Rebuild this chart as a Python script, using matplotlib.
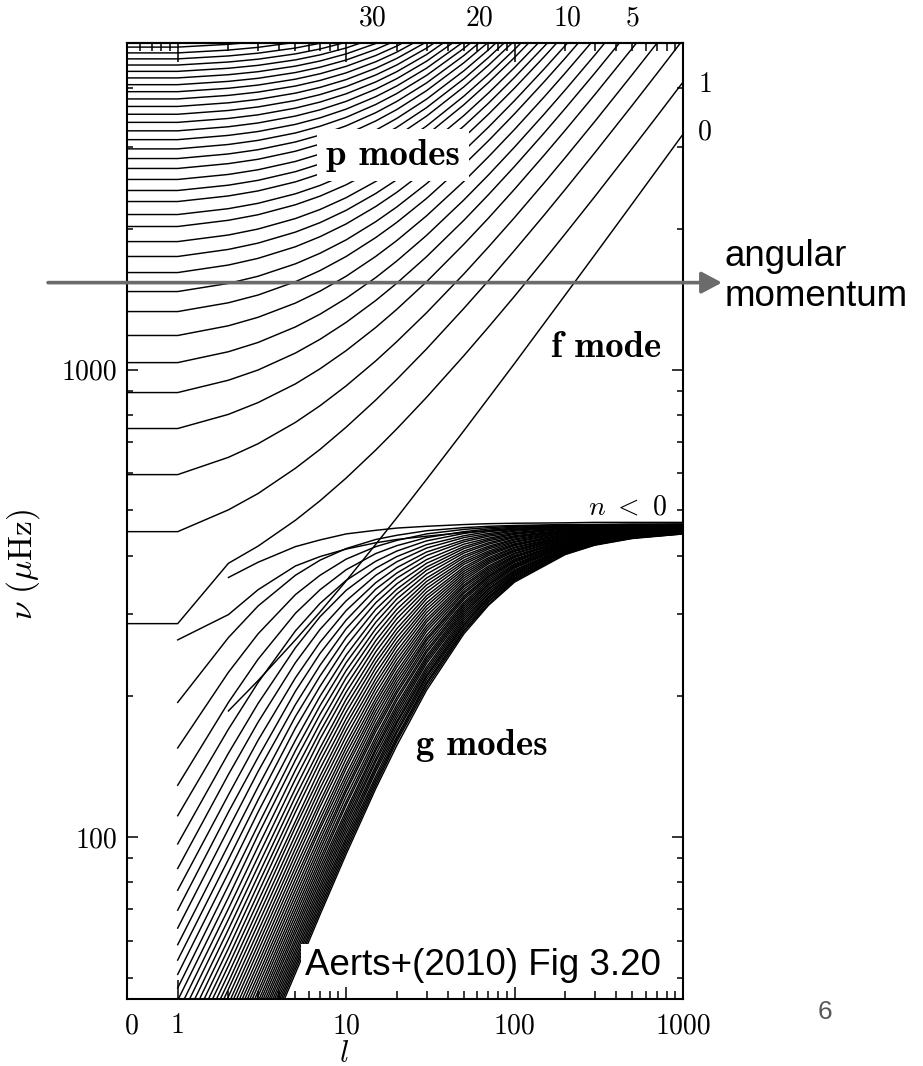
import numpy as np
import matplotlib
matplotlib.use("Agg")
import matplotlib.pyplot as plt
import matplotlib.transforms as mtransforms
from matplotlib.ticker import NullFormatter

# degree l at which the mode frequencies were read (l = 0 sits on the left frame)
ell_p = [0, 1, 2, 3, 5, 7, 10, 15, 20, 30, 50, 70, 100, 150, 200, 300, 500, 700, 1000]
ell_g = [1, 2, 3, 5, 7, 10, 15, 20, 30, 50, 70, 100, 200, 300, 500, 1000]

# p modes, order n = 1, 2, ...  (frequency in microHz, row ends where it leaves the top)
p_modes = [
    [286, 286, 385, 419, 476, 524, 586, 673, 747, 872, 1071, 1233, 1436, 1717, 1953, 2348, 2975, 3483, 4124],
    [450, 450, 501, 543, 615, 675, 753, 861, 953, 1107, 1352, 1550, 1800, 2142, 2431, 2914, 3679, 4300, 5082],
    [596, 596, 649, 694, 771, 837, 923, 1044, 1148, 1323, 1602, 1830, 2116, 2511, 2843, 3399, 4280, 4994, 5895],
    [748, 748, 802, 850, 932, 1004, 1098, 1231, 1346, 1541, 1855, 2110, 2433, 2878, 3252, 3879, 4872, 5678],
    [893, 893, 949, 998, 1085, 1161, 1262, 1406, 1531, 1744, 2087, 2368, 2722, 3211, 3623, 4313, 5405],
    [1035, 1035, 1092, 1143, 1234, 1314, 1421, 1574, 1708, 1937, 2307, 2610, 2994, 3523, 3968, 4715, 5898],
    [1183, 1183, 1241, 1294, 1388, 1472, 1584, 1747, 1889, 2133, 2528, 2854, 3266, 3834, 4313, 5115],
    [1331, 1331, 1390, 1444, 1542, 1629, 1746, 1917, 2066, 2324, 2744, 3089, 3527, 4132, 4642, 5498],
    [1469, 1469, 1529, 1584, 1684, 1774, 1895, 2073, 2229, 2499, 2939, 3303, 3764, 4401, 4938, 5840],
    [1613, 1613, 1674, 1730, 1832, 1925, 2050, 2234, 2396, 2678, 3139, 3520, 4004, 4673, 5237],
    [1746, 1746, 1808, 1865, 1969, 2063, 2192, 2382, 2549, 2841, 3320, 3716, 4220, 4917, 5506],
    [1879, 1879, 1941, 1999, 2105, 2201, 2333, 2528, 2701, 3002, 3497, 3908, 4431, 5155],
    [2024, 2024, 2087, 2145, 2253, 2351, 2486, 2686, 2864, 3175, 3688, 4113, 4656, 5409],
    [2147, 2147, 2210, 2269, 2378, 2478, 2615, 2819, 3001, 3320, 3847, 4285, 4844, 5619],
    [2289, 2289, 2353, 2412, 2522, 2624, 2764, 2972, 3159, 3486, 4028, 4480, 5057],
    [2417, 2417, 2481, 2541, 2652, 2755, 2897, 3110, 3300, 3635, 4190, 4654, 5246],
    [2552, 2552, 2616, 2677, 2789, 2893, 3037, 3254, 3448, 3790, 4359, 4834, 5443],
    [2694, 2694, 2759, 2819, 2933, 3038, 3184, 3405, 3602, 3952, 4535, 5022],
    [2829, 2829, 2894, 2955, 3070, 3176, 3324, 3547, 3749, 4105, 4700, 5199],
    [2967, 2967, 3032, 3094, 3209, 3317, 3466, 3693, 3898, 4261, 4868, 5377],
    [3105, 3105, 3171, 3232, 3348, 3457, 3609, 3838, 4046, 4415, 5034],
    [3243, 3243, 3309, 3371, 3488, 3597, 3750, 3983, 4194, 4569, 5199],
    [3381, 3381, 3447, 3509, 3627, 3737, 3892, 4127, 4341, 4722, 5363],
    [3519, 3519, 3585, 3648, 3766, 3877, 4033, 4271, 4487, 4874, 5525],
    [3657, 3657, 3723, 3786, 3905, 4017, 4174, 4415, 4634, 5025],
    [3795, 3795, 3862, 3925, 4044, 4157, 4315, 4558, 4780, 5176],
    [3933, 3933, 4000, 4063, 4183, 4296, 4456, 4701, 4925, 5327],
    [4071, 4071, 4138, 4201, 4322, 4436, 4597, 4844, 5070],
    [4209, 4209, 4276, 4340, 4461, 4575, 4738, 4987, 5215],
    [4347, 4347, 4414, 4478, 4600, 4715, 4878, 5129],
    [4485, 4485, 4552, 4616, 4738, 4854, 5018],
    [4623, 4623, 4690, 4755, 4877, 4993, 5158],
    [4761, 4761, 4828, 4893, 5016],
    [4899, 4899, 4967, 5031],
]

# f mode (no l = 1 mode)
f_mode = [None, 186, 216, 264, 303, 353, 423, 482, 582, 740, 869, 1031, 1445, 1762, 2265, 3190]

# g modes, the two top tracks first, then order n = 2 ... 52 (None = below the plot)
g_modes = [
    [264, 299, 338, 380, 398, 413, 426, 433, 440, 448, 452, 456, 461, 463, 465, 466],
    [None, 359, 387, 418, 432, 445, 453, 458, 462, 466, 468, 469, 470, 471, 471, 471],
    [194, 267, 312, 363, 391, 414, 433, 442, 452, 459, 462, 464, 466, 466, 467, 467],
    [155, 225, 272, 330, 363, 393, 418, 431, 445, 455, 459, 462, 465, 466, 466, 467],
    [129, 194, 240, 301, 338, 373, 404, 420, 437, 450, 456, 460, 464, 465, 466, 466],
    [111, 170, 214, 276, 316, 354, 389, 409, 430, 446, 453, 458, 463, 464, 465, 466],
    [96.6, 151, 193, 254, 296, 337, 376, 398, 422, 441, 450, 455, 462, 463, 465, 466],
    [85.6, 136, 176, 236, 278, 320, 363, 388, 415, 437, 446, 453, 460, 463, 464, 465],
    [76.9, 123, 161, 219, 261, 305, 350, 377, 407, 432, 443, 451, 459, 462, 464, 465],
    [69.7, 113, 148, 205, 247, 291, 339, 367, 400, 428, 440, 448, 458, 461, 463, 464],
    [63.8, 104, 138, 192, 233, 279, 327, 358, 392, 423, 436, 446, 457, 460, 462, 464],
    [58.8, 96.1, 128, 181, 221, 267, 317, 348, 385, 418, 433, 444, 456, 459, 462, 463],
    [54.5, 89.5, 120, 171, 210, 256, 307, 339, 378, 414, 430, 441, 454, 458, 461, 463],
    [50.8, 83.8, 113, 161, 200, 245, 297, 331, 372, 409, 426, 439, 453, 457, 461, 463],
    [47.5, 78.7, 106, 153, 191, 236, 288, 323, 365, 405, 423, 437, 452, 456, 460, 462],
    [44.7, 74.2, 101, 146, 183, 227, 279, 315, 358, 400, 419, 434, 451, 456, 459, 462],
    [42.1, 70.2, 95.4, 139, 175, 219, 271, 307, 352, 396, 416, 432, 449, 455, 459, 461],
    [39.9, 66.6, 90.7, 133, 168, 211, 263, 300, 346, 391, 413, 429, 448, 454, 458, 461],
    [37.8, 63.4, 86.5, 127, 162, 204, 256, 293, 340, 387, 409, 427, 447, 453, 457, 460],
    [36.0, 60.4, 82.6, 122, 155, 197, 249, 286, 334, 383, 406, 424, 445, 452, 457, 460],
    [34.3, 57.7, 79.1, 117, 150, 191, 242, 279, 328, 378, 403, 422, 444, 451, 456, 460],
    [32.8, 55.2, 75.8, 113, 145, 185, 236, 273, 323, 374, 400, 420, 443, 450, 455, 459],
    [31.4, 53.0, 72.8, 108, 140, 179, 230, 267, 317, 370, 396, 417, 441, 449, 455, 459],
    [30.1, 50.9, 70.0, 105, 135, 174, 224, 261, 312, 366, 393, 415, 440, 448, 454, 458],
    [29.0, 48.9, 67.5, 101, 131, 169, 218, 256, 307, 362, 390, 412, 439, 447, 454, 458],
    [27.9, 47.2, 65.1, 97.7, 127, 164, 213, 250, 302, 358, 387, 410, 438, 446, 453, 457],
    [26.9, 45.5, 62.8, 94.5, 123, 159, 208, 245, 297, 354, 384, 408, 436, 445, 452, 457],
    [None, 43.9, 60.7, 91.6, 119, 155, 203, 240, 292, 350, 380, 405, 435, 444, 452, 456],
    [None, 42.5, 58.8, 88.8, 116, 151, 198, 235, 288, 346, 377, 403, 434, 443, 451, 456],
    [None, 41.1, 57.0, 86.1, 112, 147, 194, 231, 283, 343, 374, 400, 432, 443, 450, 455],
    [None, 39.8, 55.2, 83.7, 109, 143, 190, 226, 279, 339, 371, 398, 431, 442, 450, 455],
    [None, 38.6, 53.6, 81.3, 106, 140, 186, 222, 275, 335, 368, 396, 430, 441, 449, 455],
    [None, 37.5, 52.1, 79.1, 104, 136, 182, 218, 270, 332, 365, 393, 428, 440, 448, 454],
    [None, 36.5, 50.6, 77.0, 101, 133, 178, 214, 266, 328, 362, 391, 427, 439, 448, 454],
    [None, 35.4, 49.3, 75.0, 98.6, 130, 174, 210, 263, 325, 360, 389, 426, 438, 447, 453],
    [None, 34.5, 48.0, 73.1, 96.2, 127, 171, 206, 259, 322, 357, 387, 424, 437, 446, 453],
    [None, 33.6, 46.7, 71.3, 94.0, 125, 168, 203, 255, 318, 354, 384, 423, 436, 446, 452],
    [None, 32.7, 45.6, 69.6, 91.8, 122, 164, 199, 251, 315, 351, 382, 422, 435, 445, 452],
    [None, None, 44.4, 68.0, 89.7, 119, 161, 196, 248, 312, 348, 380, 420, 434, 444, 451],
    [None, None, 43.4, 66.4, 87.8, 117, 158, 192, 244, 309, 346, 378, 419, 433, 444, 451],
    [None, None, 42.4, 64.9, 85.9, 114, 155, 189, 241, 306, 343, 376, 418, 432, 443, 450],
    [None, None, 41.4, 63.5, 84.1, 112, 153, 186, 238, 303, 340, 373, 416, 431, 442, 450],
    [None, None, 40.5, 62.2, 82.3, 110, 150, 183, 235, 300, 338, 371, 415, 430, 442, 449],
    [None, None, 39.6, 60.8, 80.7, 108, 147, 180, 231, 297, 335, 369, 414, 429, 441, 449],
    [None, None, 38.8, 59.6, 79.0, 106, 145, 177, 228, 294, 332, 367, 413, 428, 440, 449],
    [None, None, 37.9, 58.4, 77.5, 104, 142, 175, 225, 291, 330, 365, 411, 427, 440, 448],
    [None, None, 37.2, 57.2, 76.0, 102, 140, 172, 222, 288, 327, 363, 410, 426, 439, 448],
    [None, None, 36.4, 56.1, 74.6, 100, 138, 169, 220, 285, 325, 361, 409, 425, 438, 447],
    [None, None, 35.7, 55.0, 73.2, 98.4, 135, 167, 217, 283, 323, 359, 407, 424, 438, 447],
    [None, None, 35.0, 54.0, 71.9, 96.7, 133, 164, 214, 280, 320, 357, 406, 423, 437, 446],
    [None, None, 34.4, 53.0, 70.6, 95.1, 131, 162, 212, 277, 318, 355, 405, 422, 436, 446],
    [None, None, 33.7, 52.1, 69.4, 93.5, 129, 160, 209, 275, 315, 353, 403, 422, 436, 445],
    [None, None, 33.1, 51.1, 68.2, 91.9, 127, 157, 206, 272, 313, 351, 402, 421, 435, 445],
]

x_ticks = [0, 1, 10, 100, 1000]
x_tick_labels = ["0", "1", "10", "100", "1000"]
y_ticks = [100, 1000]
y_tick_labels = ["100", "1000"]
top_orders = ["30", "20", "10", "5"]
top_order_l = [14.4, 62, 206, 502]
right_orders = ["1", "0"]
right_order_nu = [4077, 3216]

plt.rcParams["mathtext.fontset"] = "cm"
LW = 1.05

fig = plt.figure(figsize=(9.23, 10.66), dpi=100)
ax = fig.add_axes([0.1376, 0.0629, 0.6024, 0.8968])
ax.set_xscale("log")
ax.set_yscale("log")

# the original puts l = 0 on the left frame of the log axis
x_p = [0.5 if l == 0 else l for l in ell_p]
for row in p_modes:
    ax.plot(x_p[:len(row)], row, color="k", lw=LW)
for row in g_modes + [f_mode]:
    ax.plot(ell_g, np.array(row, dtype=float), color="k", lw=LW)

ax.set_xlim(0.5, 1000)
ax.set_ylim(45, 5000)

for s in ax.spines.values():
    s.set_linewidth(1.5)
ax.set_xticks([0.5 if t == 0 else t for t in x_ticks])
ax.set_xticklabels(x_tick_labels)
ax.set_xticks([m * d for d in (1, 10, 100) for m in range(2, 10)], minor=True)
ax.xaxis.set_minor_formatter(NullFormatter())
ax.set_yticks(y_ticks)
ax.set_yticklabels(y_tick_labels)
ax.set_yticks([m * d for d in (10, 100, 1000) for m in range(2, 10) if 45 < m * d < 5000], minor=True)
ax.yaxis.set_minor_formatter(NullFormatter())
ax.tick_params(axis="x", which="major", direction="in", length=13.5, width=1.1, pad=10,
               labelsize=20, labelfontfamily="cmr10")
ax.tick_params(axis="x", which="minor", direction="in", length=6, width=1.1)
ax.tick_params(axis="y", which="major", direction="in", length=8, width=1.1, pad=7,
               right=True, labelsize=20, labelfontfamily="cmr10")
ax.tick_params(axis="y", which="minor", direction="in", length=4, width=1.1, right=True)
lab0 = ax.get_xticklabels()[0]
lab0.set_transform(lab0.get_transform() + mtransforms.ScaledTranslation(0.05, 0, fig.dpi_scale_trans))

top = ax.secondary_xaxis("top")
top.set_xticks([1, 10, 100, 1000])
top.set_xticks([0.6, 0.7, 0.8, 0.9] + [m * d for d in (1, 10, 100) for m in range(2, 10)], minor=True)
top.set_xticklabels([])
top.xaxis.set_minor_formatter(NullFormatter())
top.tick_params(which="major", direction="in", length=13.5, width=1.1)
top.tick_params(which="minor", direction="in", length=6, width=1.1)
top.spines["top"].set_linewidth(1.5)

ax.set_xlabel(r"$l$", fontsize=22)
ax.xaxis.set_label_coords(0.39, -0.042)
ax.set_ylabel(r"$\nu\ (\mu\mathrm{Hz})$", fontsize=24)
ax.yaxis.set_label_coords(-0.153, 0.454)

tx = mtransforms.blended_transform_factory(ax.transData, ax.transAxes)
for lab, lv in zip(top_orders, top_order_l):
    ax.text(lv, 1.026, lab, transform=tx, ha="center", va="center", fontsize=20, family="cmr10")
ty = mtransforms.blended_transform_factory(ax.transAxes, ax.transData)
for lab, nv in zip(right_orders, right_order_nu):
    ax.text(1.04, nv, lab, transform=ty, ha="center", va="center", fontsize=20, family="cmr10")

ax.text(19.0, 2747, "p modes", ha="center", va="baseline", fontsize=26.5, family="cmb10",
        bbox=dict(facecolor="white", edgecolor="none", boxstyle="square,pad=0.25"), zorder=5)
ax.text(347, 1066, "f mode", ha="center", va="baseline", fontsize=26.5, family="cmb10")
ax.text(64, 150, "g modes", ha="center", va="baseline", fontsize=26.5, family="cmb10")
ax.text(809, 489, r"$n\ <\ 0$", ha="right", va="baseline", fontsize=20)
ax.text(5.67, 50.6, "Aerts+(2010) Fig 3.20", ha="left", va="baseline", fontsize=26.5,
        family="Liberation Sans", zorder=6,
        bbox=dict(facecolor="white", edgecolor="none", boxstyle="square,pad=0.1"))

ax.annotate("", xy=(1.07, 1535), xytext=(-0.142, 1535), xycoords=ty, textcoords=ty,
            arrowprops=dict(arrowstyle="-|>,head_length=0.62,head_width=0.33", color="#6b6b6b",
                            lw=2.6, shrinkA=0, shrinkB=0, mutation_scale=20),
            annotation_clip=False, zorder=7)
ax.text(1.0755, 1582, "angular\nmomentum", transform=ty, ha="left", va="center",
        fontsize=26.5, family="Liberation Sans", linespacing=1.22)
fig.text(0.8938, 0.0507, "6", ha="center", va="center", fontsize=19, color="#595959",
         family="Liberation Sans")

fig.savefig("out.png", dpi=100)
